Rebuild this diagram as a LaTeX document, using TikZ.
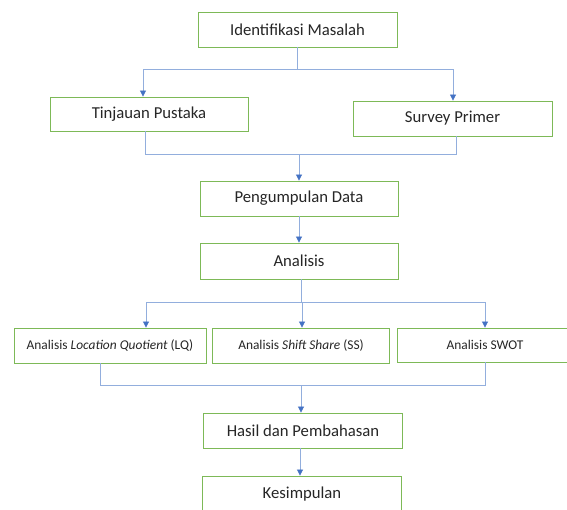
\documentclass[tikz,border=0pt]{standalone}
\usepackage{fontspec}
\setmainfont{Carlito}
\usetikzlibrary{arrows.meta}
\definecolor{boxgreen}{HTML}{7DB957}
\definecolor{linkblue}{HTML}{92AEDD}
\definecolor{tipblue}{HTML}{4472C4}
\definecolor{txt}{HTML}{262626}
\tikzset{
  box/.style={draw=boxgreen, line width=0.9pt, fill=white, rectangle, inner sep=0pt, text=txt},
  bigbox/.style={box, font=\fontsize{16.7}{20}\selectfont},
  smallbox/.style={box, font=\fontsize{13.4}{16}\selectfont},
  link/.style={draw=linkblue, line width=0.8pt},
  arr/.style={link, -{Triangle[length=6pt,width=6pt,color=tipblue]}}
}
\begin{document}
\begin{tikzpicture}[x=1pt,y=-1pt]
\useasboundingbox (0,0) rectangle (567,509);
\clip (0,0) rectangle (567,509);
\fill[white] (0,0) rectangle (567,509);

\node[bigbox, minimum width=199pt, minimum height=35pt] (id) at (297.5,29.5) {Identifikasi Masalah};
\node[bigbox, minimum width=198pt, minimum height=34pt] (tp) at (149,114) {Tinjauan Pustaka};
\node[bigbox, minimum width=199pt, minimum height=35pt] (sp) at (452.5,118.5) {Survey Primer};
\node[bigbox, minimum width=198pt, minimum height=35pt] (pd) at (299,198.5) {Pengumpulan Data};
\node[bigbox, minimum width=198pt, minimum height=36pt] (an) at (299,261) {Analisis};
\node[smallbox, minimum width=192pt, minimum height=35pt] (lq) at (110,345.5) {Analisis \textit{Location Quotient} (LQ)};
\node[smallbox, minimum width=176.5pt, minimum height=35pt] (ss) at (301,345.5) {Analisis \textit{Shift Share} (SS)};
\node[smallbox, minimum width=176pt, minimum height=34pt] (sw) at (485,345) {Analisis SWOT};
\node[bigbox, minimum width=198.5pt, minimum height=35pt] (hp) at (303,430.5) {Hasil dan Pembahasan};
\node[bigbox, minimum width=198.5pt, minimum height=36pt] (ks) at (302,494) {Kesimpulan};

% Identifikasi -> Tinjauan / Survey
\coordinate (j1) at (297,69);
\draw[link] ([xshift=-0.5pt]id.south) -- (j1);
\draw[arr] (j1) -| ([xshift=-6pt]tp.north);
\draw[arr] (j1) -| ([xshift=0.5pt]sp.north);

% Tinjauan / Survey -> Pengumpulan
\coordinate (j2) at (299,154);
\draw[link] ([xshift=-4pt]tp.south) |- (j2);
\draw[link] ([xshift=3.5pt]sp.south) |- (j2);
\draw[arr] (j2) -- (pd.north);

% Pengumpulan -> Analisis
\draw[arr] (pd.south) -- (an.north);

% Analisis -> three analyses
\coordinate (j3) at (301,302);
\draw[link] ([xshift=2pt]an.south) -- (j3);
\draw[arr] (j3) -| ([xshift=36pt]lq.north);
\draw[arr] (j3) -| ([xshift=1pt]ss.north);
\draw[arr] (j3) -| (sw.north);

% LQ / SWOT -> Hasil
\coordinate (j4) at (301,385);
\draw[link] ([xshift=-9.5pt]lq.south) |- (j4);
\draw[link] (sw.south) |- (j4);
\draw[arr] (j4) -- ([xshift=-2pt]hp.north);

% Hasil -> Kesimpulan
\draw[arr] ([xshift=-3pt]hp.south) -- ([xshift=-2pt]ks.north);
\end{tikzpicture}
\end{document}
